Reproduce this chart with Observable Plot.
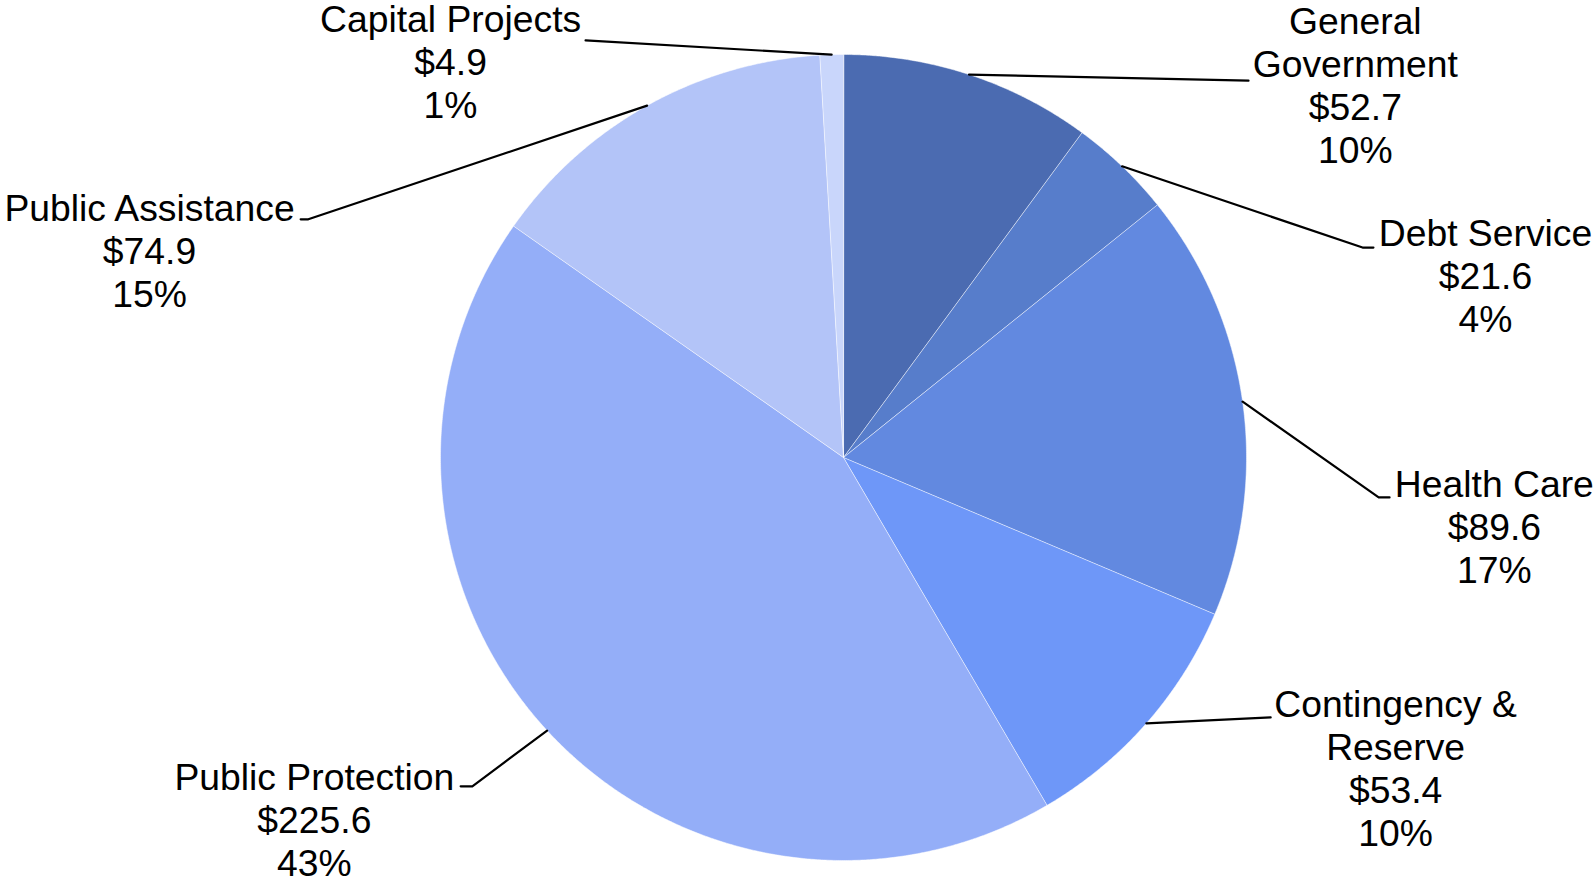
<!DOCTYPE html>
<html><head><meta charset="utf-8">
<script src="https://cdn.jsdelivr.net/npm/d3@7"></script>
<script src="https://cdn.jsdelivr.net/npm/@observablehq/plot@0.6"></script>
<style>html,body{margin:0;padding:0;background:#fff;overflow:hidden;}</style>
</head><body><div id="chart"></div>
<script>
// ---- data ----
const categories = ["General Government","Debt Service","Health Care","Contingency & Reserve","Public Protection","Public Assistance","Capital Projects"];
const values = [52.7, 21.6, 89.6, 53.4, 225.6, 74.9, 4.9];
const valueLabels = ["$52.7","$21.6","$89.6","$53.4","$225.6","$74.9","$4.9"];
const percentLabels = ["10%","4%","17%","10%","43%","15%","1%"];
const nameLines = [["General","Government"],["Debt Service"],["Health Care"],["Contingency &","Reserve"],["Public Protection"],["Public Assistance"],["Capital Projects"]];
const colors = ["#4B6BB1","#577DCB","#6289E0","#6E97F8","#94AEF8","#B3C4F8","#C9D6FB"];

// ---- layout (pie radius units, origin at pie centre, y downward) ----
const W = 1596, H = 882, CX = 843, CY = 457, R = 403;
const LINE = 43 / R;
const labelLayout = [
  {elbow: [1.005, -0.935], stub: null,   text: [1.270, -1.052]},
  {elbow: [1.288, -0.521], stub: 1.315,  text: [1.593, -0.524]},
  {elbow: [1.328,  0.099], stub: 1.355,  text: [1.615,  0.099]},
  {elbow: [1.060,  0.645], stub: null,   text: [1.370,  0.645]},
  {elbow: [-0.921, 0.816], stub: -0.950, text: [-1.313, 0.826]},
  {elbow: [-1.328,-0.591], stub: -1.347, text: [-1.722,-0.588]},
  {elbow: [-0.640,-1.035], stub: null,   text: [-0.975,-1.055]}
];

const data = categories.map((c, i) => ({category: c, value: values[i], i}));
const arcs = d3.pie().sort(null).value(d => d.value)(data);

const slicePts = [];
const leaderPts = [];
const textRows = [];
arcs.forEach((a, i) => {
  const c = categories[i];
  slicePts.push({c, x: 0, y: 0});
  const steps = Math.max(2, Math.ceil((a.endAngle - a.startAngle) / 0.005));
  for (let k = 0; k <= steps; k++) {
    const t = a.startAngle + (a.endAngle - a.startAngle) * k / steps;
    slicePts.push({c, x: Math.sin(t), y: -Math.cos(t)});
  }
  const mid = (a.startAngle + a.endAngle) / 2;
  const L = labelLayout[i];
  leaderPts.push({c, x: Math.sin(mid), y: -Math.cos(mid)});
  leaderPts.push({c, x: L.elbow[0], y: L.elbow[1]});
  if (L.stub != null) leaderPts.push({c, x: L.stub, y: L.elbow[1]});
  const lines = [...nameLines[i], valueLabels[i], percentLabels[i]];
  lines.forEach((s, j) => textRows.push({s, x: L.text[0], y: L.text[1] + j * LINE}));
});

const chart = Plot.plot({
  width: W, height: H,
  margin: 0,
  x: {domain: [-CX / R, (W - CX) / R], range: [0, W], axis: null},
  y: {domain: [-CY / R, (H - CY) / R], range: [0, H], axis: null},
  color: {domain: categories, range: colors},
  style: {fontFamily: "'Liberation Sans', Arial, sans-serif", background: "#fff"},
  marks: [
    Plot.line(slicePts, {x: "x", y: "y", z: "c", fill: "c", stroke: "#ffffff", strokeOpacity: 0.5, strokeWidth: 1, curve: "linear-closed"}),
    Plot.line(leaderPts, {x: "x", y: "y", z: "c", stroke: "#000", strokeWidth: 2.2}),
    Plot.text(textRows, {x: "x", y: "y", text: "s", fontSize: 37.3, fill: "#000", textAnchor: "middle", lineAnchor: "bottom"})
  ]
});
document.getElementById("chart").appendChild(chart);
</script>
</body></html>
